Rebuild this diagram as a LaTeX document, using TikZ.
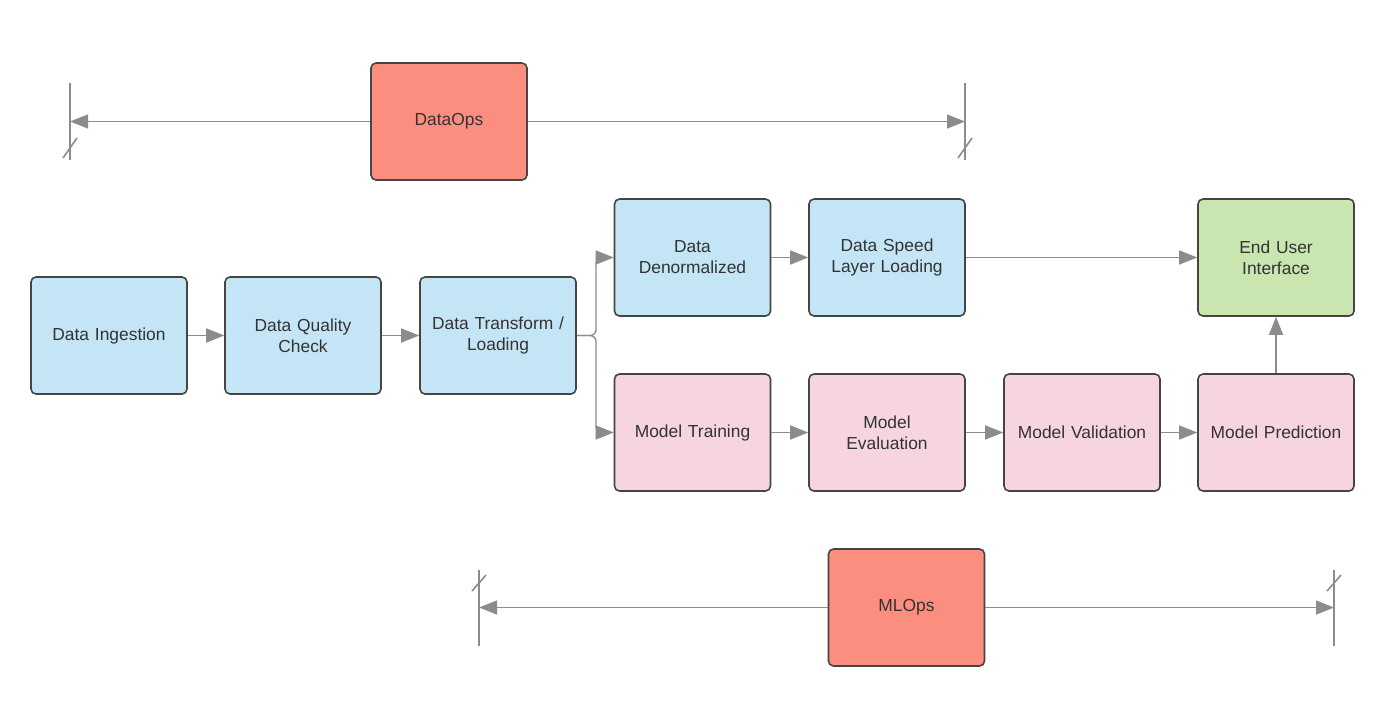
\documentclass[tikz,border=0pt]{standalone}
\usepackage{fontspec}
\setmainfont{Liberation Sans}
\usetikzlibrary{arrows.meta}
\definecolor{bluebox}{HTML}{C4E5F5}
\definecolor{pinkbox}{HTML}{F6D4E0}
\definecolor{greenbox}{HTML}{C9E6B1}
\definecolor{salmon}{HTML}{FC8E7F}
\definecolor{edge}{HTML}{454545}
\definecolor{conn}{HTML}{8C8C8C}
\definecolor{txt}{HTML}{333333}
\begin{document}
\begin{tikzpicture}[x=0.5pt,y=-0.5pt,
  box/.style={draw=edge, line width=0.8pt, rounded corners=2.5pt, minimum width=78pt, minimum height=58.5pt,
    text width=70pt, align=center, font=\fontsize{8.7}{10.5}\selectfont, text=txt, inner sep=0pt},
  blue/.style={box, fill=bluebox},
  pink/.style={box, fill=pinkbox},
  green/.style={box, fill=greenbox},
  ops/.style={box, fill=salmon},
  arr/.style={draw=conn, line width=0.7pt, -{Triangle[length=9pt,width=7pt,fill=conn]}},
  bar/.style={draw=conn, line width=0.8pt}]
\useasboundingbox (0,0) rectangle (1400,724);
% main nodes
\node[blue] (ing) at (109,335.5) {Data Ingestion};
\node[blue] (dqc) at (303,335.5) {Data Quality\\Check};
\node[blue] (dtl) at (498,335.5) {Data Transform /\\Loading};
\node[blue] (den) at (692.5,257.5) {Data\\Denormalized};
\node[blue] (spd) at (887,257.5) {Data Speed\\Layer Loading};
\node[green] (eui) at (1276,257.5) {End User\\Interface};
\node[pink] (trn) at (692.5,432.5) {Model Training};
\node[pink] (evl) at (887,432.5) {Model\\Evaluation};
\node[pink] (val) at (1082,432.5) {Model Validation};
\node[pink] (prd) at (1276,432.5) {Model Prediction};
\node[ops] (dops) at (449,121.5) {DataOps};
\node[ops] (mops) at (906.5,607.5) {MLOps};
% connectors
\draw[arr] (ing) -- (dqc);
\draw[arr] (dqc) -- (dtl);
\coordinate (br) at (596,335.5);
\draw[arr, rounded corners=3pt] (dtl.east) -- (br) |- (den.west);
\draw[arr, rounded corners=3pt] (dtl.east) -- (br) |- (trn.west);
\draw[arr] (den) -- (spd);
\draw[arr] (spd) -- (eui);
\draw[arr] (trn) -- (evl);
\draw[arr] (evl) -- (val);
\draw[arr] (val) -- (prd);
\draw[arr] (prd) -- (eui);
% DataOps span
\coordinate (dl) at (70,121.5);
\coordinate (dr) at (965,121.5);
\draw[arr] (dops.west) -- (dl);
\draw[arr] (dops.east) -- (dr);
\coordinate (dlt) at (70,83); \coordinate (dlb) at (70,160);
\coordinate (drt) at (965,83); \coordinate (drb) at (965,160);
\draw[bar] (dlt) -- (dlb);
\draw[bar] (drt) -- (drb);
\coordinate (dls1) at (63,158); \coordinate (dls2) at (77,138);
\coordinate (drs1) at (958,158); \coordinate (drs2) at (972,138);
\draw[bar] (dls1) -- (dls2);
\draw[bar] (drs1) -- (drs2);
% MLOps span
\coordinate (ml) at (479,607.5);
\coordinate (mr) at (1334,607.5);
\draw[arr] (mops.west) -- (ml);
\draw[arr] (mops.east) -- (mr);
\coordinate (mlt) at (479,570); \coordinate (mlb) at (479,646);
\coordinate (mrt) at (1334,570); \coordinate (mrb) at (1334,646);
\draw[bar] (mlt) -- (mlb);
\draw[bar] (mrt) -- (mrb);
\coordinate (mls1) at (472,591); \coordinate (mls2) at (486,575);
\coordinate (mrs1) at (1327,591); \coordinate (mrs2) at (1341,575);
\draw[bar] (mls1) -- (mls2);
\draw[bar] (mrs1) -- (mrs2);
\end{tikzpicture}
\end{document}
